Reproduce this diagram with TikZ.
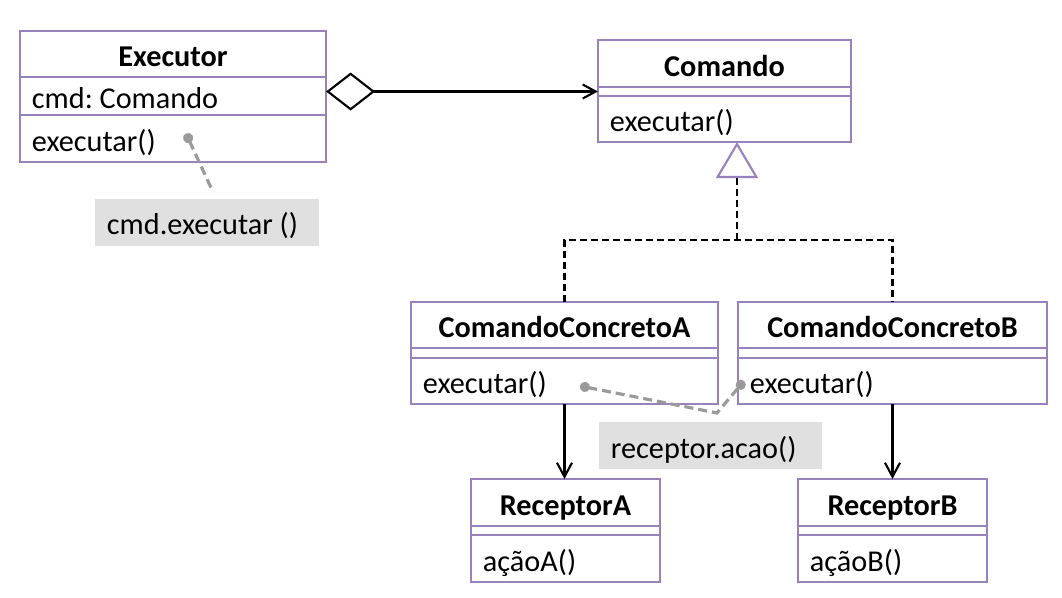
\documentclass[tikz,border=0pt]{standalone}
\usepackage{fontspec}
\setmainfont{Carlito}
\usepackage{tikz}
\usetikzlibrary{arrows.meta, positioning}
\definecolor{umlpurple}{HTML}{9882BD}
\definecolor{notegrey}{HTML}{E0E0E0}
\definecolor{linkgrey}{HTML}{9A9A9A}
\newcommand{\umlsize}{\frenchspacing\fontsize{8.6}{10}\selectfont}
\tikzset{
  classbox/.style={draw=umlpurple, line width=0.6pt, outer sep=0pt, inner xsep=0.12cm, inner ysep=0pt, text width=#1, text height=3.0mm, text depth=0.5mm, anchor=north},
  classhead/.style={classbox=#1, font=\umlsize\bfseries, align=center, minimum height=0.46cm},
  classpart/.style={classbox=#1, align=flush left, minimum height=0.46cm},
  classgap/.style={draw=umlpurple, line width=0.6pt, outer sep=0pt, inner sep=0pt, minimum width=#1, minimum height=0.09cm, anchor=north},
  note/.style={fill=notegrey, text width=#1, text height=3.0mm, text depth=0.5mm, align=flush left, inner xsep=0.12cm, inner ysep=0pt, minimum height=0.47cm},
  assoc/.style={-{Straight Barb[length=1.4mm, width=1.5mm]}, line width=0.6pt},
  aggreg/.style={{Diamond[open, length=4.9mm, width=3.8mm, fill=white]}-{Straight Barb[length=1.3mm, width=1.4mm]}, line width=0.6pt},
  realize/.style={dash pattern=on 0.7mm off 0.4mm, line width=0.6pt},
  notelink/.style={draw=linkgrey, dash pattern=on 0.9mm off 0.5mm, line width=0.9pt},
}
\begin{document}
\begin{tikzpicture}[x=0.01cm, y=-0.01cm, every node/.style={font=\umlsize}]
  \useasboundingbox (0,0) rectangle (1062,598);

  \node (exe) [classhead=2.82cm] at (173,31) {Executor};
  \node (exe-attr) [classpart=2.82cm, minimum height=0.38cm, below=0pt of exe] {cmd: Comando};
  \node (exe-op) [classpart=2.82cm, minimum height=0.47cm, below=0pt of exe-attr] {executar()};

  \node (cmd) [classhead=2.29cm, minimum height=0.47cm] at (724.5,40) {Comando};
  \node (cmd-gap) [classgap=2.53cm, below=0pt of cmd] {};
  \node (cmd-op) [classpart=2.29cm, below=0pt of cmd-gap] {executar()};

  \node (ccA) [classhead=2.83cm] at (564.5,302) {ComandoConcretoA};
  \node (ccA-gap) [classgap=3.07cm, minimum height=0.1cm, below=0pt of ccA] {};
  \node (ccA-op) [classpart=2.83cm, below=0pt of ccA-gap] {executar()};

  \node (ccB) [classhead=2.85cm] at (892.5,302) {ComandoConcretoB};
  \node (ccB-gap) [classgap=3.09cm, minimum height=0.1cm, below=0pt of ccB] {};
  \node (ccB-op) [classpart=2.85cm, below=0pt of ccB-gap] {executar()};

  \node (recA) [classhead=1.65cm, minimum height=0.47cm] at (565.5,479) {ReceptorA};
  \node (recA-gap) [classgap=1.89cm, below=0pt of recA] {};
  \node (recA-op) [classpart=1.65cm, minimum height=0.47cm, below=0pt of recA-gap] {açãoA()};

  \node (recB) [classhead=1.65cm, minimum height=0.47cm] at (892.5,479) {ReceptorB};
  \node (recB-gap) [classgap=1.89cm, below=0pt of recB] {};
  \node (recB-op) [classpart=1.65cm, minimum height=0.47cm, below=0pt of recB-gap] {açãoB()};

  \node (exe-note) [note=2.00cm] at (207,222.5) {cmd.executar ()};
  \node (rec-note) [note=1.99cm] at (710.5,446) {receptor.acao()};

  \coordinate (join) at (737,240);
  \coordinate (exe-dot) at (186,133.5);
  \coordinate (exe-tail) at (213,192);
  \coordinate (rec-dotA) at (580,386);
  \coordinate (rec-bend) at (717,413);
  \coordinate (rec-dotB) at (744,381);

  \draw [aggreg] (exe-attr.east |- cmd-gap.west) -- (cmd-gap.west);
  \draw [realize] (ccA.north) |- (join) -| (ccB.north);
  \draw [realize, -{Triangle[open, length=3.6mm, width=4.2mm, color=umlpurple, line width=0.6pt]}] (join) -- (join |- cmd-op.south);
  \draw [assoc] (ccA-op.south) -- (ccA-op.south |- recA.north);
  \draw [assoc] (ccB-op.south) -- (ccB-op.south |- recB.north);
  \draw [notelink, {Circle[length=1mm]}-] (exe-dot) -- (exe-tail);
  \draw [notelink, {Circle[length=1mm]}-{Circle[length=1mm]}] (rec-dotA) -- (rec-bend) -- (rec-dotB);

\end{tikzpicture}
\end{document}
